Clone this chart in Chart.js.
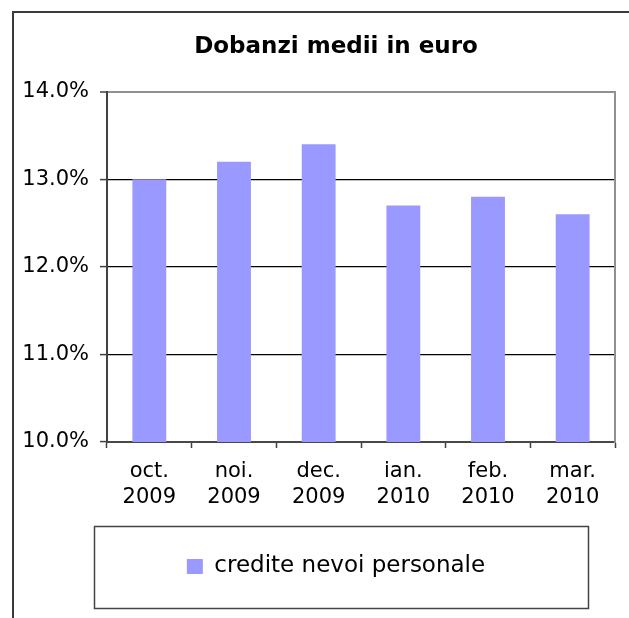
<!DOCTYPE html>
<html><head><meta charset="utf-8">
<script src="https://cdn.jsdelivr.net/npm/chart.js@4/dist/chart.umd.min.js"></script>
<style>
html,body{margin:0;padding:0;background:#fff;width:629px;height:618px;overflow:hidden;}
#frame{position:absolute;left:12px;top:11px;width:700px;height:700px;border-left:2px solid #3a3a3a;border-top:2px solid #3a3a3a;}
#c{position:absolute;left:0;top:0;}
</style></head><body>
<div id="frame"></div>
<canvas id="c" width="629" height="618"></canvas>
<script>
const chartTitle = 'Dobanzi medii in euro';
const months = ['oct.', 'noi.', 'dec.', 'ian.', 'feb.', 'mar.'];
const years = ['2009', '2009', '2009', '2010', '2010', '2010'];
const seriesName = 'credite nevoi personale';
const rates = [13.0, 13.2, 13.4, 12.7, 12.8, 12.6];
const yMin = 10, yMax = 14, yStep = 1;

const labels = months.map((m, i) => [m, years[i]]);
const FONT = "'DejaVu Sans', Verdana, sans-serif";
Chart.defaults.font.family = FONT;
Chart.defaults.color = '#000';

const legendFrame = {
  id: 'legendFrame',
  afterDraw(chart) {
    const lg = chart.legend;
    if (!lg || !lg.legendHitBoxes || !lg.legendHitBoxes.length) return;
    const hb = lg.legendHitBoxes[0];
    const cx = hb.left + hb.width / 2 + 5;
    const cy = hb.top + hb.height / 2;
    const w = 494, h = 82;
    const ctx = chart.ctx;
    ctx.save();
    ctx.strokeStyle = '#444';
    ctx.lineWidth = 1.5;
    ctx.strokeRect(Math.round(cx - w / 2) + 0.5, Math.round(cy - h / 2) + 0.5, w, h);
    ctx.restore();
  }
};

new Chart(document.getElementById('c'), {
  type: 'bar',
  data: {
    labels: labels,
    datasets: [{
      label: seriesName,
      data: rates,
      backgroundColor: '#9999FF',
      borderWidth: 0,
      barPercentage: 0.4,
      categoryPercentage: 1.0
    }]
  },
  options: {
    responsive: false,
    animation: false,
    devicePixelRatio: 1,
    layout: { padding: { left: 57, right: 14, top: 0, bottom: 30 } },
    plugins: {
      title: {
        display: true,
        text: chartTitle,
        color: '#000',
        font: { family: FONT, size: 23, weight: 'bold' },
        padding: { top: 33, bottom: 31 }
      },
      legend: {
        display: true,
        position: 'bottom',
        labels: {
          color: '#000',
          font: { family: FONT, size: 23 },
          boxWidth: 16,
          boxHeight: 15,
          padding: 20
        }
      },
      tooltip: { enabled: false }
    },
    scales: {
      x: {
        grid: {
          offset: true,
          drawOnChartArea: false,
          drawTicks: true,
          tickLength: 6,
          tickColor: '#404040',
          tickWidth: 1.5
        },
        border: { display: true, color: '#484848', width: 2 },
        ticks: {
          color: '#000',
          font: { family: FONT, size: 21, lineHeight: 1.25 },
          padding: 10,
          maxRotation: 0,
          autoSkip: false
        },
        afterFit(scale) { scale.height = 93; }
      },
      y: {
        min: yMin,
        max: yMax,
        grid: {
          color: (ctx) => ctx.tick && ctx.tick.value === yMax ? '#909090' : (ctx.tick && ctx.tick.value === yMin ? 'rgba(0,0,0,0)' : '#000'),
          lineWidth: (ctx) => ctx.tick && ctx.tick.value === yMax ? 2 : 1.2,
          drawTicks: true,
          tickLength: 7,
          tickColor: '#404040',
          tickWidth: 1.5
        },
        border: { display: true, color: '#404040', width: 2 },
        ticks: {
          stepSize: yStep,
          color: '#000',
          font: { family: FONT, size: 21 },
          padding: 11,
          callback: (v) => v.toFixed(1) + '%'
        },
        afterFit(scale) {
          scale.width = 50;
          scale._computeLabelArea = function () { return undefined; };
        }
      },
      yRight: {
        position: 'right',
        display: true,
        grid: { display: false, drawTicks: false },
        border: { display: true, color: '#909090', width: 2 },
        ticks: { display: false },
        afterFit(scale) { scale.width = 0; }
      }
    }
  },
  plugins: [legendFrame]
});
</script>
</body></html>
